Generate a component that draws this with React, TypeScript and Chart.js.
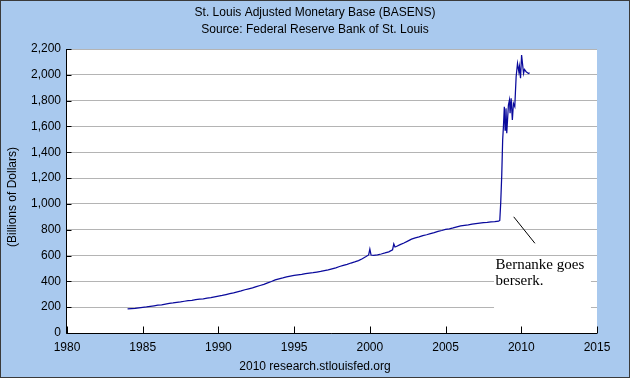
import React, { useEffect, useRef } from 'react';
import { Chart, registerables } from 'chart.js';

Chart.register(...registerables);

const titleLine1 = 'St. Louis Adjusted Monetary Base (BASENS)';
const titleLine2 = 'Source: Federal Reserve Bank of St. Louis';
const yAxisTitle = '(Billions of Dollars)';
const footerText = '2010 research.stlouisfed.org';
const noteLines = ['Bernanke goes', 'berserk.'];

const xTickValues = [1980, 1985, 1990, 1995, 2000, 2005, 2010, 2015];
const yTickValues = [0, 200, 400, 600, 800, 1000, 1200, 1400, 1600, 1800, 2000, 2200];

const years = [
  1984.0, 1984.25, 1984.5, 1984.75, 1985.0, 1985.25, 1985.5, 1985.75,
  1986.0, 1986.25, 1986.5, 1986.75, 1987.0, 1987.25, 1987.5, 1987.75,
  1988.0, 1988.25, 1988.5, 1988.75, 1989.0, 1989.25, 1989.5, 1989.75,
  1990.0, 1990.25, 1990.5, 1990.75, 1991.0, 1991.25, 1991.5, 1991.75,
  1992.0, 1992.25, 1992.5, 1992.75, 1993.0, 1993.25, 1993.5, 1993.75,
  1994.0, 1994.25, 1994.5, 1994.75, 1995.0, 1995.25, 1995.5, 1995.75,
  1996.0, 1996.25, 1996.5, 1996.75, 1997.0, 1997.25, 1997.5, 1997.75,
  1998.0, 1998.25, 1998.5, 1998.75, 1999.0, 1999.25, 1999.5, 1999.75,
  1999.92, 2000.0, 2000.08, 2000.25, 2000.5, 2000.75, 2001.0, 2001.25,
  2001.5, 2001.58, 2001.66, 2001.75, 2002.0, 2002.25, 2002.5, 2002.75,
  2003.0, 2003.25, 2003.5, 2003.75, 2004.0, 2004.25, 2004.5, 2004.75,
  2005.0, 2005.25, 2005.5, 2005.75, 2006.0, 2006.25, 2006.5, 2006.75,
  2007.0, 2007.25, 2007.5, 2007.75, 2008.0, 2008.25, 2008.5, 2008.58,
  2008.64, 2008.71, 2008.77, 2008.82, 2008.88, 2008.93, 2008.99, 2009.04,
  2009.15, 2009.22, 2009.26, 2009.33, 2009.41, 2009.48, 2009.57, 2009.61,
  2009.66, 2009.75, 2009.84, 2009.88, 2009.95, 2010.02, 2010.08, 2010.15,
  2010.21, 2010.32, 2010.48, 2010.55,
];

const values = [
  186, 189, 191, 195, 199, 202, 207, 211,
  215, 218, 224, 229, 233, 238, 241, 246,
  250, 253, 258, 262, 265, 270, 274, 280,
  286, 291, 298, 305, 311, 319, 326, 335,
  342, 349, 359, 368, 377, 388, 399, 412,
  420, 427, 435, 441, 446, 450, 454, 460,
  464, 467, 472, 477, 483, 489, 497, 505,
  515, 524, 532, 542, 551, 561, 575, 592,
  605, 650, 604, 602, 606, 612, 620, 629,
  645, 690, 666, 670, 685, 697, 712, 727,
  737, 744, 754, 761, 770, 777, 787, 794,
  802, 807, 814, 822, 829, 834, 838, 843,
  847, 851, 855, 857, 860, 862, 866, 872,
  1004, 1224, 1495, 1598, 1753, 1572, 1740, 1547,
  1766, 1805, 1702, 1818, 1650, 1779, 1753, 1857,
  1985, 2088, 2024, 2063, 1973, 2153, 2088, 2011,
  2042, 2024, 2011, 2016,
];

const BG = '#a9c9ee';
const SANS = '"Liberation Sans", Arial, sans-serif';

const decorPlugin = {
  id: 'decor',
  beforeDraw(chart: any) {
    const { ctx, width, height, chartArea } = chart;
    ctx.save();
    ctx.fillStyle = BG;
    ctx.fillRect(0, 0, width, height);
    ctx.fillStyle = '#ffffff';
    ctx.fillRect(chartArea.left, chartArea.top, chartArea.right - chartArea.left, chartArea.bottom - chartArea.top);
    ctx.restore();
  },
  afterDraw(chart: any) {
    const { ctx, width, height, chartArea, scales } = chart;
    const xs = scales.x;
    const ys = scales.y;
    ctx.save();
    ctx.strokeStyle = '#000';
    ctx.lineWidth = 1;
    const L = Math.round(chartArea.left) - 0.5;
    const B = Math.round(chartArea.bottom) + 0.5;
    ctx.beginPath();
    ctx.moveTo(L, chartArea.top);
    ctx.lineTo(L, B);
    ctx.lineTo(chartArea.right, B);
    ctx.stroke();
    ctx.beginPath();
    xTickValues.forEach((v) => {
      const px = Math.round(xs.getPixelForValue(v)) + 0.5;
      ctx.moveTo(px, B);
      ctx.lineTo(px, B - 7);
    });
    yTickValues.forEach((v) => {
      const py = Math.round(ys.getPixelForValue(v)) + 0.5;
      ctx.moveTo(L, py);
      ctx.lineTo(L + 5, py);
    });
    ctx.stroke();

    ctx.fillStyle = '#000';
    ctx.font = '12px ' + SANS;
    ctx.textAlign = 'center';
    ctx.textBaseline = 'middle';
    ctx.fillText(titleLine1, width / 2, 13);
    ctx.fillText(titleLine2, width / 2, 30);
    ctx.fillText(footerText, width / 2, 367);

    ctx.save();
    ctx.translate(13, 197);
    ctx.rotate(-Math.PI / 2);
    ctx.fillText(yAxisTitle, 0, 0);
    ctx.restore();

    const bx = xs.getPixelForValue(2008.2);
    const by = ys.getPixelForValue(580);
    ctx.fillStyle = '#ffffff';
    ctx.fillRect(bx, by, xs.getPixelForValue(2014.6) - bx, ys.getPixelForValue(200) + 4 - by);
    ctx.fillStyle = '#000';
    ctx.font = '15px "Liberation Serif", "Times New Roman", serif';
    ctx.textAlign = 'left';
    ctx.textBaseline = 'middle';
    ctx.fillText(noteLines[0], xs.getPixelForValue(2008.3), ys.getPixelForValue(525));
    ctx.fillText(noteLines[1], xs.getPixelForValue(2008.3), ys.getPixelForValue(400));
    ctx.strokeStyle = '#000';
    ctx.lineWidth = 1;
    ctx.beginPath();
    ctx.moveTo(xs.getPixelForValue(2009.5), ys.getPixelForValue(900));
    ctx.lineTo(xs.getPixelForValue(2010.9), ys.getPixelForValue(695));
    ctx.stroke();

    ctx.strokeStyle = '#3a3a3a';
    ctx.lineWidth = 1;
    ctx.strokeRect(0.5, 0.5, width - 1, height - 1);
    ctx.restore();
  },
};

export default function App() {
  const canvasRef = useRef<HTMLCanvasElement | null>(null);

  useEffect(() => {
    document.body.style.margin = '0';
    const canvas = canvasRef.current;
    if (!canvas) return;
    const points = years.map((x, i) => ({ x, y: values[i] }));
    const chart = new Chart(canvas, {
      type: 'line',
      data: {
        datasets: [
          {
            data: points,
            borderColor: '#0a0a9c',
            borderWidth: 1.25,
            pointRadius: 0,
            tension: 0,
            fill: false,
          },
        ],
      },
      options: {
        responsive: false,
        animation: false,
        layout: { padding: { top: 49, right: 33, bottom: 0, left: 0 } },
        plugins: {
          legend: { display: false },
          tooltip: { enabled: false },
          title: { display: false },
        },
        scales: {
          x: {
            type: 'linear',
            min: 1980,
            max: 2015,
            grid: { display: false, drawTicks: false },
            border: { display: false },
            ticks: {
              padding: 7,
              color: '#000',
              font: { family: SANS, size: 12 },
              maxRotation: 0,
              autoSkip: false,
              callback: (v: any) => String(v),
            },
            afterBuildTicks: (s: any) => {
              s.ticks = xTickValues.map((v) => ({ value: v }));
            },
            afterFit: (s: any) => {
              s.height = 45;
            },
          },
          y: {
            type: 'linear',
            min: 0,
            max: 2200,
            grid: { color: '#b4b4b4', lineWidth: 1, drawTicks: false },
            border: { display: false },
            ticks: {
              padding: 6,
              color: '#000',
              font: { family: SANS, size: 12 },
              autoSkip: false,
              callback: (v: any) => Number(v).toLocaleString('en-US'),
            },
            afterBuildTicks: (s: any) => {
              s.ticks = yTickValues.map((v) => ({ value: v }));
            },
            afterFit: (s: any) => {
              s.width = 67;
            },
          },
        },
      },
      plugins: [decorPlugin],
    });
    return () => chart.destroy();
  }, []);

  return <canvas ref={canvasRef} width={630} height={378} style={{ display: 'block' }} />;
}
